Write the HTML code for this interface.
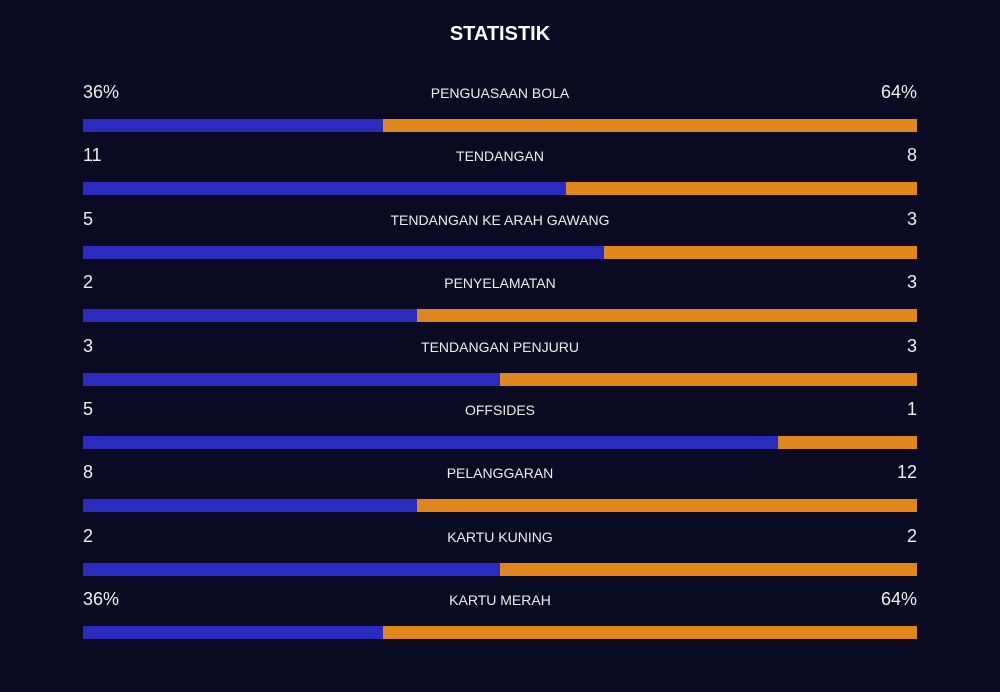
<!DOCTYPE html>
<html><head><meta charset="utf-8"><style>
body{margin:0;width:1000px;height:692px;background:#0a0a22;font-family:"Liberation Sans",sans-serif;color:#fff;overflow:hidden;position:relative}
.t{position:absolute;top:23px;left:0;width:1000px;text-align:center;font-weight:bold;font-size:20px}
.l,.r,.c{position:absolute;white-space:nowrap}
.l{left:83px;font-size:18px;color:#eee}
.r{right:83px;font-size:18px;color:#eee}
.c{left:0;width:1000px;text-align:center;font-size:14px;color:#eee}
.bar{position:absolute;left:83px;width:834px;height:13px;background:#e0861a}
.bar div{height:100%;background:#2b2bbf}
</style></head><body>
<div class="t">STATISTIK</div>
<div id="rows"></div>
<script>
const labels=["PENGUASAAN BOLA","TENDANGAN","TENDANGAN KE ARAH GAWANG","PENYELAMATAN","TENDANGAN PENJURU","OFFSIDES","PELANGGARAN","KARTU KUNING","KARTU MERAH"];
const homeValues=[36,11,5,2,3,5,8,2,36];
const awayValues=[64,8,3,3,3,1,12,2,64];
const suffixes=["%","","","","","","","","%"];
const root=document.getElementById('rows');
labels.forEach((lab,i)=>{
  const top=119+i*63.4;
  const l=document.createElement('div');l.className='l';l.style.top=(top-37)+'px';l.textContent=homeValues[i]+suffixes[i];
  
  
  const r=document.createElement('div');r.className='r';r.style.top=(top-37)+'px';r.textContent=awayValues[i]+suffixes[i];
  
  
  const c=document.createElement('div');c.className='c';c.style.top=(top-34)+'px';c.textContent=lab;
  
  
  const b=document.createElement('div');b.className='bar';b.style.top=top+'px';
  
  
  const h=document.createElement('div');
  
  
  h.style.width=(homeValues[i]/(homeValues[i]+awayValues[i])*100)+'%';
  b.appendChild(h);
  root.append(l,r,c,b);
});
</script>
</body></html>
